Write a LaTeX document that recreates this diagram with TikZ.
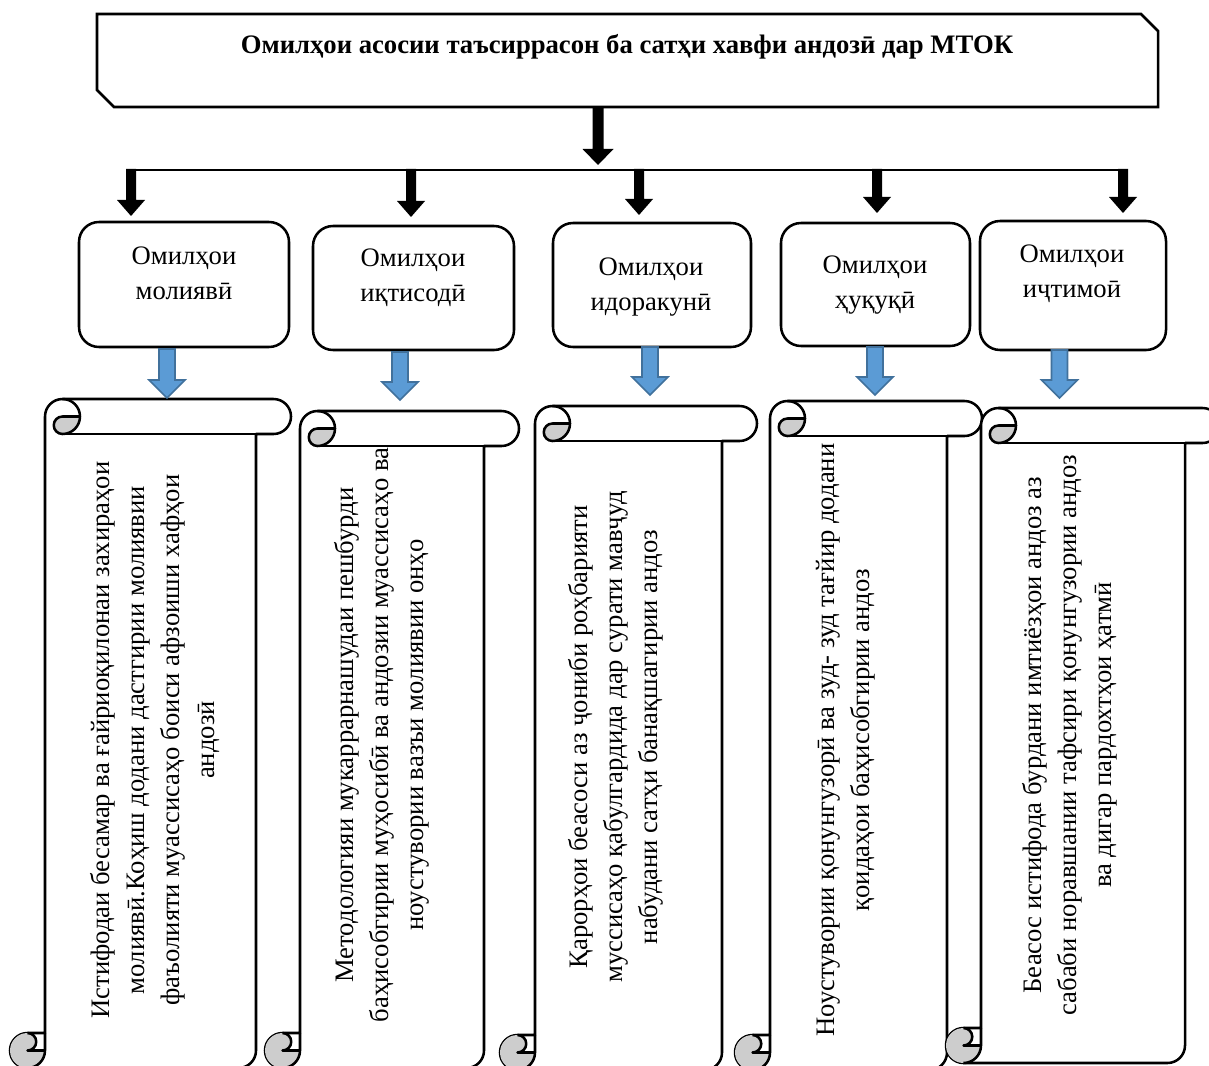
\documentclass[tikz,border=0pt]{standalone}
\usepackage{fontspec}
\setmainfont{Liberation Serif}
\usetikzlibrary{calc}
\definecolor{blueF}{HTML}{5B9BD5}
\definecolor{blueD}{HTML}{41719C}
\definecolor{curlgray}{HTML}{CDCDCD}

% block arrow: [style]{from}{to}{shaft half}{head half}{head length}
\newcommand\blockarrow[6][]{%
  \path[#1] ($(#2)+(-#4,0)$) -- ($(#2)+(#4,0)$) -- ($(#3)+(#4,-#6)$) -- ($(#3)+(#5,-#6)$)
    -- (#3) -- ($(#3)+(-#5,-#6)$) -- ($(#3)+(-#4,-#6)$) -- cycle;}

% vertical scroll: {L}{T}{R}{B}, roll size 35
\newcommand\vscroll[4]{%
  \filldraw[scrollline, fill=white] ({#1+35},{#4-35}) -- ({#1+35},{#2+17.5})
    arc[start angle=180, delta angle=90, radius=17.5] -- ({#3-17.5},#2)
    arc[start angle=270, delta angle=180, radius=17.5] -- ({#3-35},{#2+35})
    -- ({#3-35},{#4-17.5}) arc[start angle=0, delta angle=90, radius=17.5]
    -- ({#1+17.5},#4) arc[start angle=90, delta angle=180, radius=17.5] -- cycle;
  \fill[curlgray] ({#1+70},{#2+17.5}) arc[start angle=0, delta angle=90, radius=17.5]
    arc[start angle=90, delta angle=180, radius=8.75] -- cycle;
  \fill[curlgray] ({#1+35},{#4-17.5}) arc[start angle=0, delta angle=270, radius=17.5]
    arc[start angle=270, delta angle=180, radius=8.75] -- cycle;
  \draw[scrollline] ({#1+52.5},#2) arc[start angle=270, delta angle=180, radius=17.5]
    arc[start angle=90, delta angle=180, radius=8.75] -- ({#1+70},{#2+17.5});
  \draw[scrollline] ({#3-35},{#2+35}) -- ({#1+52.5},{#2+35});
  \draw[scrollline] ({#1+17.5},{#4-35}) arc[start angle=270, delta angle=180, radius=8.75]
    -- ({#1+35},{#4-17.5});
  \draw[scrollline] ({#1+17.5},#4) arc[start angle=90, delta angle=-90, radius=17.5]
    -- ({#1+35},{#4-35});
}

\tikzset{
  scrollline/.style={draw=black, line width=1.9pt, line join=round},
  fbox/.style={draw=black, line width=1.9pt, rounded corners=15pt, inner sep=0pt, fill=white},
  ftxt/.style={align=center, inner sep=0pt, font=\fontsize{20}{26.25}\selectfont},
  stxt/.style={align=center, inner sep=0pt, rotate=90, font=\fontsize{20}{26.25}\selectfont},
  blackarr/.style={fill=black},
  bluearr/.style={fill=blueF, draw=blueD, line width=1.2pt, line join=miter},
}

\begin{document}
\begin{tikzpicture}[x=0.75pt, y=-0.75pt]
\useasboundingbox (0,0) rectangle (1209,1066);
\fill[white] (0,0) rectangle (1209,1066);
\clip (0,0) rectangle (1209,1066);

% title box
\draw[line width=1.9pt, line join=miter] (97,14) -- (1141,14) -- (1158,31) -- (1158,107)
  -- (114,107) -- (97,90) -- cycle;
\node[font=\fontsize{20}{24}\selectfont\bfseries, inner sep=0pt] (title) at (627,47)
  {Омилҳои асосии таъсиррасон ба сатҳи хавфи андозӣ дар МТОК};

% connector coordinates
\coordinate (tb) at (598,107);
\coordinate (tm) at (598,165);
\coordinate (busL) at (126,170);
\coordinate (busR) at (1128,170);
\coordinate (k1) at (131,169); \coordinate (k1t) at (131,216);
\coordinate (k2) at (411,169); \coordinate (k2t) at (411,217);
\coordinate (k3) at (639,169); \coordinate (k3t) at (639,215);
\coordinate (k4) at (877,169); \coordinate (k4t) at (877,213);
\coordinate (k5) at (1123,169); \coordinate (k5t) at (1123,213);

% factor boxes
\node[fbox, minimum width=157.5pt, minimum height=93.75pt] (f1) at (184,284.5) {};
\node[fbox, minimum width=150.75pt, minimum height=93pt] (f2) at (413.5,288) {};
\node[fbox, minimum width=148.5pt, minimum height=93pt] (f3) at (652,285) {};
\node[fbox, minimum width=141.75pt, minimum height=92.25pt] (f4) at (875.5,284.5) {};
\node[fbox, minimum width=139.5pt, minimum height=96.75pt] (f5) at (1073,285.5) {};
\node[ftxt] (t1) at (184,273.5) {Омилҳои\\молиявӣ};
\node[ftxt] (t2) at (413,277.5) {Омилҳои\\иқтисодӣ};
\node[ftxt] (t3) at (651,287) {Омилҳои\\идоракунӣ};
\node[ftxt] (t4) at (875,285.5) {Омилҳои\\ҳуқуқӣ};
\node[ftxt] (t5) at (1072,273.5) {Омилҳои\\иҷтимоӣ};

% scrolls
\vscroll{10}{399}{291}{1068}
\vscroll{265}{411}{519}{1068}
\vscroll{500}{406}{757}{1070}
\vscroll{735}{401}{982}{1070}
\vscroll{946}{408}{1220}{1063}

\node[stxt] (s1) at (155.5,740) {Истифодаи бесамар ва ғайриоқилонаи захираҳои\\молиявӣ.Коҳиш додани дастгирии молиявии\\фаъолияти муассисаҳо боиси афзоиши хафҳои\\андозӣ};
\node[stxt] (s2) at (382,735) {Методологияи мукаррарнашудаи пешбурди\\баҳисобгирии муҳосибӣ ва андозии муассисаҳо ва\\ноустувории вазъи молиявии онҳо};
\node[stxt] (s3) at (616,737) {Қарорҳои беасоси аз ҷониби роҳбарияти\\муссисаҳо қабулгардида дар сурати мавҷуд\\набудани сатҳи банақшагирии андоз};
\node[stxt] (s4) at (846,740) {Ноустувории қонунгузорӣ ва зуд- зуд тағйир додани\\қоидаҳои баҳисобгирии андоз};
\node[stxt] (s5) at (1070,735) {Беасос истифода бурдани имтиёзҳои андоз аз\\сабаби норавшании тафсири қонунгузории андоз\\ва дигар пардохтҳои ҳатмӣ};

% black arrows
\blockarrow[blackarr]{tb}{tm}{5.5}{15.5}{16}
\draw[line width=1.5pt] (busL) -- (busR);
\blockarrow[blackarr]{k1}{k1t}{5}{14}{16}
\blockarrow[blackarr]{k2}{k2t}{5}{14}{16}
\blockarrow[blackarr]{k3}{k3t}{5}{14}{16}
\blockarrow[blackarr]{k4}{k4t}{5}{14}{16}
\blockarrow[blackarr]{k5}{k5t}{5}{14}{16}

% blue arrows
\coordinate (b1) at (167,349); \coordinate (b1t) at (167,398);
\coordinate (b2) at (400,352); \coordinate (b2t) at (400,400);
\coordinate (b3) at (650,347); \coordinate (b3t) at (650,395);
\coordinate (b4) at (875,347); \coordinate (b4t) at (875,395);
\coordinate (b5) at (1059.5,350); \coordinate (b5t) at (1059.5,398);
\blockarrow[bluearr]{b1}{b1t}{8}{18}{18}
\blockarrow[bluearr]{b2}{b2t}{8}{18}{18}
\blockarrow[bluearr]{b3}{b3t}{8}{18}{18}
\blockarrow[bluearr]{b4}{b4t}{8}{18}{18}
\blockarrow[bluearr]{b5}{b5t}{8}{18}{18}
\end{tikzpicture}
\end{document}
